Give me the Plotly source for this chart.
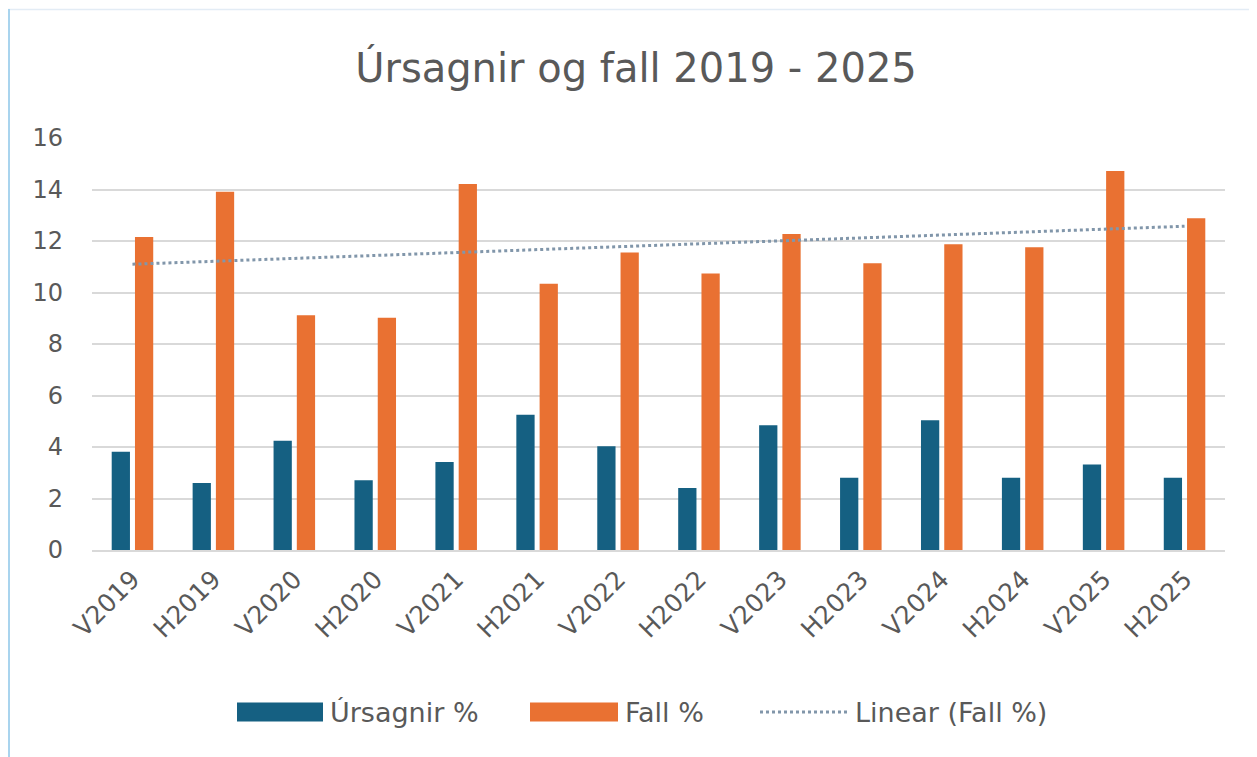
import numpy as np
import plotly.graph_objects as go

categories = ["V2019", "H2019", "V2020", "H2020", "V2021", "H2021", "V2022",
              "H2022", "V2023", "H2023", "V2024", "H2024", "V2025", "H2025"]
ursagnir = [3.82, 2.60, 4.24, 2.71, 3.42, 5.25, 4.03, 2.41, 4.84, 2.81, 5.04, 2.81, 3.32, 2.81]
fall = [12.16, 13.91, 9.12, 9.02, 14.21, 10.34, 11.55, 10.74, 12.27, 11.14, 11.87, 11.76, 14.72, 12.88]
y_ticks = [0, 2, 4, 6, 8, 10, 12, 14, 16]

title_text = "Úrsagnir og fall 2019 - 2025"
legend_names = ["Úrsagnir %", "Fall %", "Linear (Fall %)"]

BLUE = "#156082"
ORANGE = "#E97132"
TREND = "#8196aa"
TXT = "#595959"
GRID = "#d9d9d9"
FONT = "DejaVu Sans"

OFF = 8  # page body margin
W, H = 1257 - OFF, 757 - OFF
L, R, T, B = 84, 32, 130, 207
pw, ph = W - L - R, H - T - B

def px(x):
    # screenshot x -> paper
    return (x - OFF - L) / pw

def py(y):
    # screenshot y -> paper
    return (H - B - (y - OFF)) / ph

# linear trendline (Excel-style least squares fit on Fall %)
idx = np.arange(len(fall))
slope, intercept = np.polyfit(idx, fall, 1)
trend = (slope * idx + intercept).tolist()

fig = go.Figure()
fig.add_bar(x=categories, y=ursagnir, name=legend_names[0], marker_color=BLUE,
            marker_line_width=0, showlegend=False)
fig.add_bar(x=categories, y=fall, name=legend_names[1], marker_color=ORANGE,
            marker_line_width=0, showlegend=False)
fig.add_scatter(x=categories, y=trend, mode="lines", name=legend_names[2],
                line=dict(color=TREND, width=3, dash="dot"), showlegend=False)

shapes = []
annotations = []

# manual legend
leg_y = 712
items = [
    (237, 323, legend_names[0], "rect", BLUE),
    (530, 618, legend_names[1], "rect", ORANGE),
    (760, 848, legend_names[2], "line", TREND),
]
for x0, x1, label, kind, col in items:
    if kind == "rect":
        shapes.append(dict(type="rect", xref="paper", yref="paper",
                           x0=px(x0), x1=px(x1), y0=py(leg_y - 9.5), y1=py(leg_y + 9.5),
                           fillcolor=col, line=dict(width=0), layer="above"))
    else:
        shapes.append(dict(type="line", xref="paper", yref="paper",
                           x0=px(x0), x1=px(x1), y0=py(leg_y), y1=py(leg_y),
                           line=dict(color=col, width=3, dash="dot"), layer="above"))
    annotations.append(dict(xref="paper", yref="paper", x=px(x1 + 5), y=py(leg_y),
                            xanchor="left", yanchor="middle", showarrow=False,
                            text=label, font=dict(family=FONT, size=27, color=TXT)))

# chart area border
shapes.append(dict(type="line", xref="paper", yref="paper",
                   x0=px(8), x1=px(1257), y0=py(9.5), y1=py(9.5),
                   line=dict(color="#e3ecf5", width=1.5), layer="below"))
shapes.append(dict(type="line", xref="paper", yref="paper",
                   x0=px(9), x1=px(9), y0=py(9), y1=py(757),
                   line=dict(color="#a9d4ee", width=2), layer="below"))

fig.update_layout(
    width=W, height=H,
    margin=dict(l=L, r=R, t=T, b=B, autoexpand=False),
    paper_bgcolor="white", plot_bgcolor="white",
    barmode="group", bargap=0.425, bargroupgap=0.215,
    title=dict(text=title_text, x=(636 - OFF) / W, xanchor="center",
               y=1 - (68 - OFF) / H, yanchor="middle", yref="container",
               font=dict(family=FONT, size=40, color=TXT)),
    font=dict(family=FONT, color=TXT),
    shapes=shapes, annotations=annotations,
)
fig.update_yaxes(range=[0, 16], tickvals=y_ticks, showgrid=True, gridcolor=GRID,
                 gridwidth=1.5, zeroline=False, showline=False,
                 tickfont=dict(family=FONT, size=24, color=TXT), ticklabelstandoff=28)
fig.update_xaxes(showline=True, linecolor=GRID, linewidth=1.5, tickangle=-45,
                 tickfont=dict(family=FONT, size=25, color=TXT), ticks="",
                 ticklabelstandoff=3)

fig.write_html("out.html")
